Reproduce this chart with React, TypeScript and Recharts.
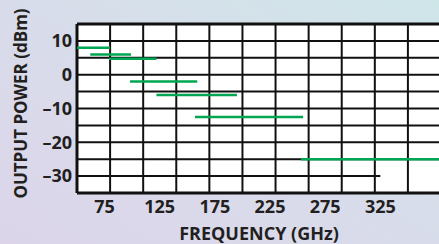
import { LineChart, Line, XAxis, YAxis, CartesianGrid, ReferenceLine, Label } from 'recharts';

// output power bands (GHz / dBm)
const bandStart = [50, 62, 79, 98, 122, 157, 253];
const bandEnd = [80, 99, 122, 159, 195, 255, 380];
const bandPower = [8, 6, 4.7, -2, -6, -12.5, -25];

const freqTicks = [75, 125, 175, 225, 275, 325];
const powerTicks = [10, 0, -10, -20, -30];
const gridFreq = [50, 80, 110, 140, 170, 200, 230, 260, 290, 320, 350, 380];
const gridPower = [15, 10, 5, 0, -5, -10, -15, -20, -25, -35];

const bands = bandStart.map((s, i) => [
  { freq: s, power: bandPower[i] },
  { freq: bandEnd[i], power: bandPower[i] },
]);

const font = "'Open Sans', 'DejaVu Sans', sans-serif";
const ink = '#231f20';

const fmtPower = (v: number) => (v < 0 ? '\u2013' + Math.abs(v) : String(v));

const YTitle = (props: any) => {
  const { viewBox } = props;
  const x = 20;
  const y = viewBox.y + viewBox.height / 2 - 5;
  return (
    <text x={x} y={y} transform={`rotate(-90 ${x} ${y})`} textAnchor="middle" dominantBaseline="central"
      fontFamily={font} fontWeight={700} fontSize={17} fill={ink}>
      OUTPUT POWER (dBm)
    </text>
  );
};

export default function App() {
  return (
    <div style={{
      position: 'fixed', left: 0, top: 0, width: 439, height: 244, overflow: 'hidden',
      background: 'linear-gradient(to top right, #dcd5ea 0%, #d8dcea 50%, #cfe6e9 100%)',
    }}>
      <LineChart width={446} height={244} margin={{ top: 24, right: 5, bottom: 0, left: 0 }}>
        <CartesianGrid fill="#ffffff" stroke="#111" strokeWidth={2}
          verticalValues={gridFreq} horizontalValues={gridPower} />
        <ReferenceLine segment={[{ x: 50, y: -30 }, { x: 325, y: -30 }]} stroke="#111" strokeWidth={2} />
        <XAxis type="number" dataKey="freq" domain={[50, 380]} ticks={freqTicks} allowDataOverflow interval={0}
          height={51} tickLine={false} axisLine={false} tickSize={0} tickMargin={7}
          tick={{ fill: ink, fontFamily: font, fontWeight: 700, fontSize: 18 }}>
          <Label value="FREQUENCY (GHz)" position="insideBottom" offset={4}
            style={{ fill: ink, fontFamily: font, fontWeight: 700, fontSize: 18 }} />
        </XAxis>
        <YAxis type="number" domain={[-35, 15]} ticks={powerTicks} width={77} allowDataOverflow interval={0}
          tickLine={false} axisLine={false} tickSize={0} tickMargin={5} tickFormatter={fmtPower}
          tick={{ fill: ink, fontFamily: font, fontWeight: 700, fontSize: 18 }}>
          <Label content={<YTitle />} />
        </YAxis>
        <ReferenceLine y={15} stroke="#111" strokeWidth={3} />
        <ReferenceLine x={50} stroke="#111" strokeWidth={3} />
        <ReferenceLine y={-35} stroke="#111" strokeWidth={3} />
        {bands.map((d, i) => (
          <Line key={i} data={d} dataKey="power" stroke="#00a651" strokeWidth={2.5}
            dot={false} activeDot={false} isAnimationActive={false} />
        ))}
      </LineChart>
    </div>
  );
}
